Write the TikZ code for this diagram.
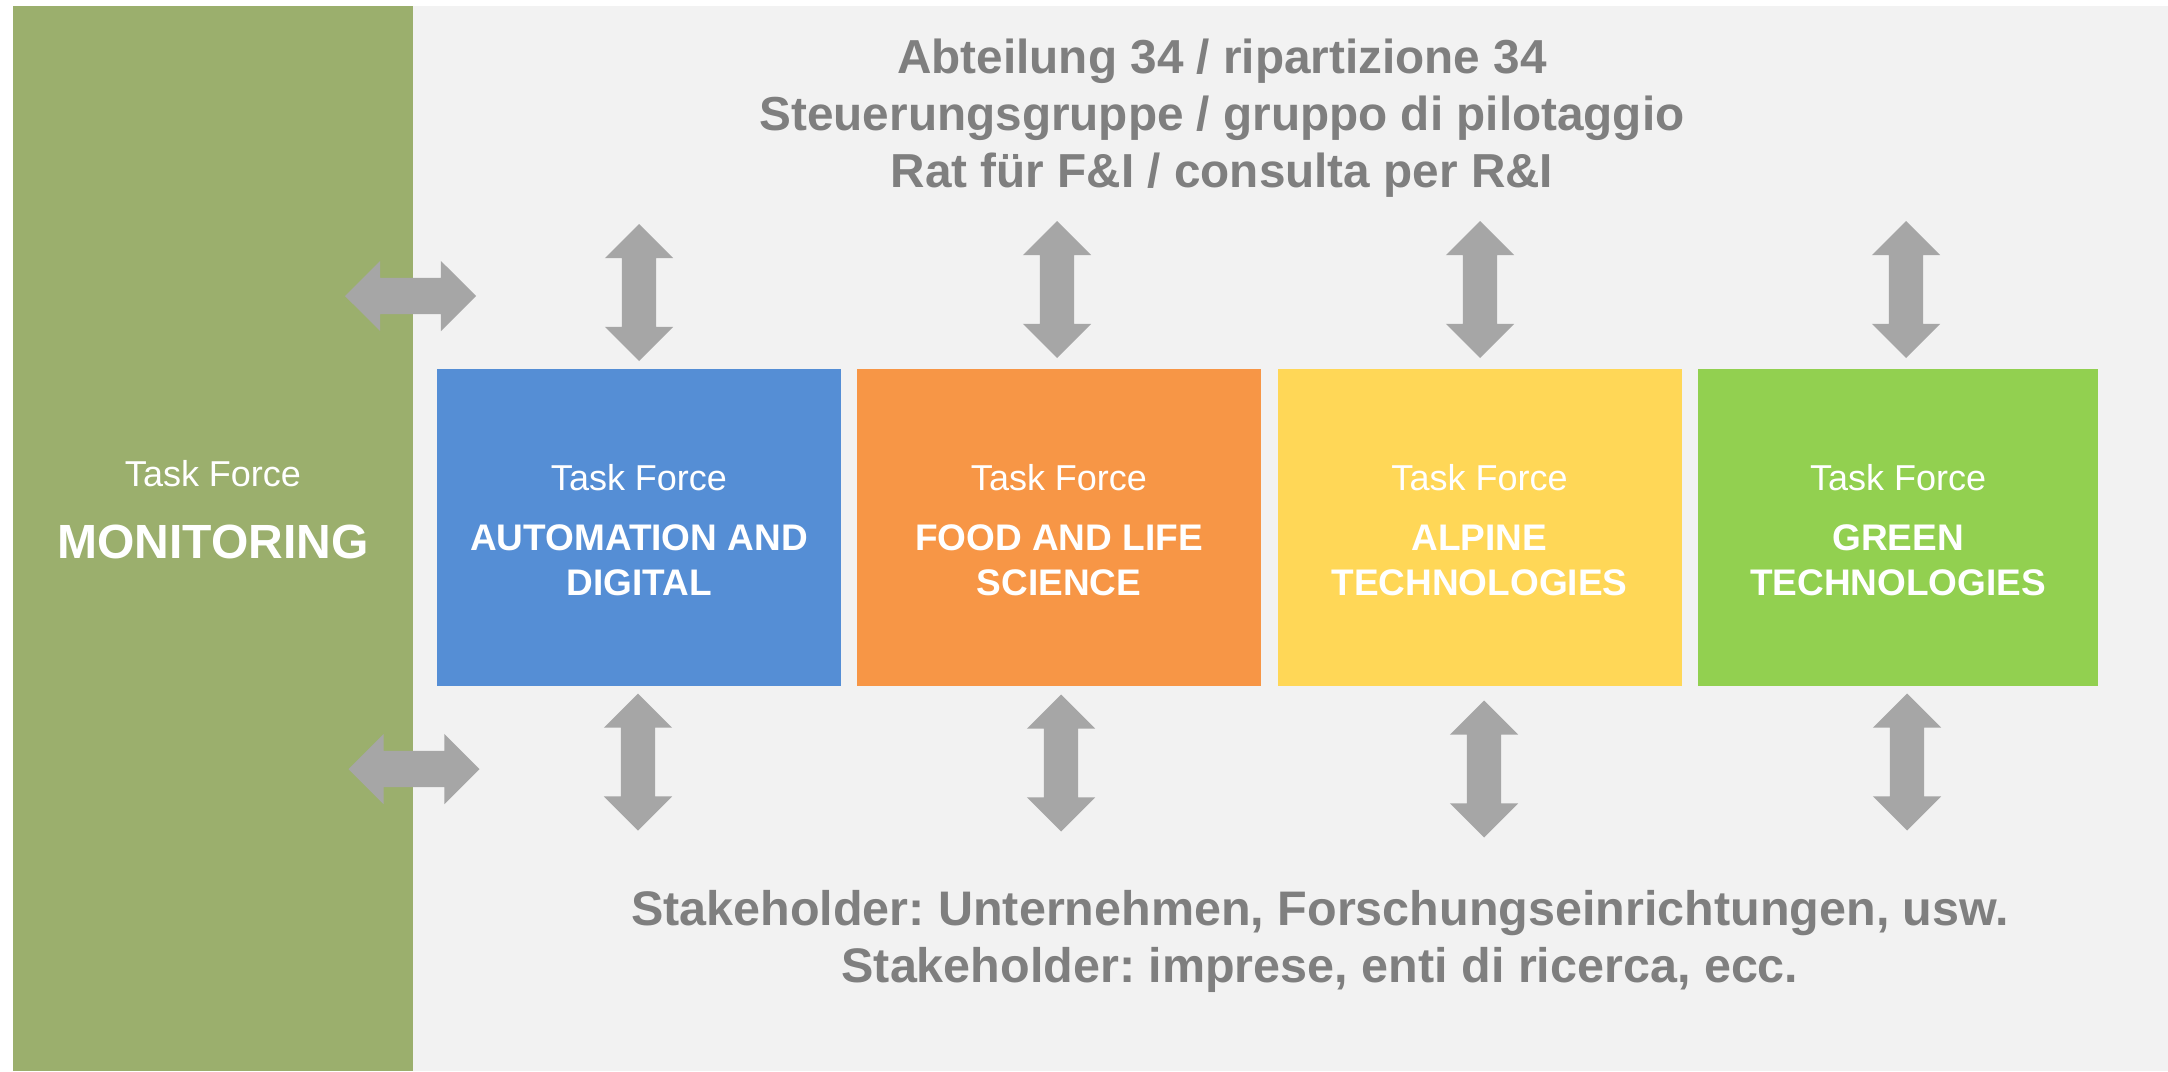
\documentclass[tikz,border=0pt]{standalone}
\usepackage{fontspec}
\setmainfont{Liberation Sans}
\usetikzlibrary{shapes.arrows}
\frenchspacing

\definecolor{bggray}{HTML}{F2F2F2}
\definecolor{monigreen}{HTML}{9BAF6D}
\definecolor{tfblue}{HTML}{558ED5}
\definecolor{tforange}{HTML}{F79646}
\definecolor{tfyellow}{HTML}{FFD757}
\definecolor{tfgreen}{HTML}{92D050}
\definecolor{arrowgray}{HTML}{A6A6A6}
\definecolor{textgray}{HTML}{7F7F7F}

\tikzset{
  tfbox/.style={rectangle, minimum width=404pt, minimum height=317pt, inner sep=0pt,
    text=white, align=center, font=\fontsize{37pt}{45pt}\selectfont},
  whitetext/.style={text=white, align=center, inner sep=0pt, font=\fontsize{37pt}{45pt}\selectfont},
  graytext/.style={text=textgray, align=center, inner sep=0pt, font=\bfseries\fontsize{47.7pt}{57pt}\selectfont},
  harrow/.style={double arrow, fill=arrowgray, double arrow tip angle=90,
    double arrow head extend=17pt, inner xsep=0pt, inner ysep=18pt, minimum height=131pt},
  varrow/.style={double arrow, fill=arrowgray, double arrow tip angle=90, rotate=90,
    double arrow head extend=17pt, inner xsep=0pt, inner ysep=17pt, minimum height=137pt}
}

\begin{document}
\begin{tikzpicture}[x=1pt,y=-1pt]
\useasboundingbox (0,0) rectangle (2168,1071);
%Background
\fill[white] (0,0) rectangle (2168,1071);
\fill[bggray] (413,6) rectangle (2168,1071);
\fill[monigreen] (13,6) rectangle (413,1071);

%Nodes
\node[graytext] (council) at (1222,118.5) {Abteilung 34 / ripartizione 34\\Steuerungsgruppe / gruppo di pilotaggio\\Rat für F\&I / consulta per R\&I};

\node[whitetext] (monitoring) at (213,510) {{\fontsize{36pt}{45pt}\selectfont Task Force}\\[27pt]{\bfseries\fontsize{48pt}{58pt}\selectfont MONITORING}};

\node[tfbox, fill=tfblue] (automation) at (639,527.5) {{\fontsize{36pt}{45pt}\selectfont\rule{0pt}{32pt}Task Force}\\[15pt]\textbf{AUTOMATION AND}\\\textbf{DIGITAL}};
\node[tfbox, fill=tforange] (food) at (1059,527.5) {{\fontsize{36pt}{45pt}\selectfont\rule{0pt}{32pt}Task Force}\\[15pt]\textbf{FOOD AND LIFE}\\\textbf{SCIENCE}};
\node[tfbox, fill=tfyellow] (alpine) at (1479.5,527.5) {{\fontsize{36pt}{45pt}\selectfont\rule{0pt}{32pt}Task Force}\\[15pt]\textbf{ALPINE}\\\textbf{TECHNOLOGIES}};
\node[tfbox, fill=tfgreen, minimum width=400pt] (green) at (1898,527.5) {{\fontsize{36pt}{45pt}\selectfont\rule{0pt}{32pt}Task Force}\\[15pt]\textbf{GREEN}\\\textbf{TECHNOLOGIES}};

\node[graytext, font=\bfseries\fontsize{48.5pt}{57pt}\selectfont] (stakeholder) at (1320,941) {Stakeholder: Unternehmen, Forschungseinrichtungen, usw.\\Stakeholder: imprese, enti di ricerca, ecc.};

%Arrows
\node[harrow] (monitop) at (410.5,296) {};
\node[harrow] (monibottom) at (414,769) {};

\node[varrow] (automationtop) at (639,292.5) {};
\node[varrow] (foodtop) at (1057,289.5) {};
\node[varrow] (alpinetop) at (1480,289.5) {};
\node[varrow] (greentop) at (1906,289.5) {};

\node[varrow] (automationbottom) at (638,762) {};
\node[varrow] (foodbottom) at (1061,763) {};
\node[varrow] (alpinebottom) at (1484,769) {};
\node[varrow] (greenbottom) at (1907,762) {};
\end{tikzpicture}
\end{document}
